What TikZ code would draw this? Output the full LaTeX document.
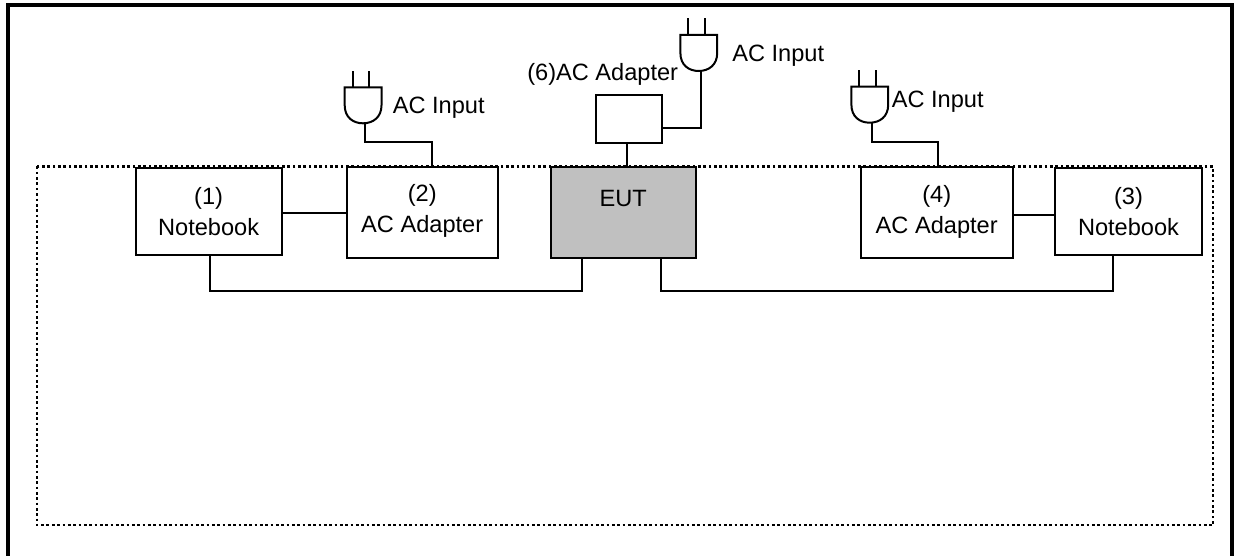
\documentclass[tikz,border=0pt]{standalone}
\usepackage{xcolor}
\usepackage{fontspec}
\setmainfont{Liberation Sans}
\usetikzlibrary{positioning,calc}
\definecolor{eutgray}{HTML}{C0C0C0}
\tikzset{
    box/.style={draw, line width=1.5pt, fill=white, align=center, inner sep=0pt, outer sep=0pt,
        font=\fontsize{17.7}{23.4}\selectfont},
    label/.style={inner sep=0pt, font=\fontsize{17.7}{21}\selectfont},
    wire/.style={line width=1.5pt, line join=miter},
    plug/.pic={
        \draw [wire, fill=white] (-20.3,-36) -- (16.5,-36) -- (16.5,-18)
            .. controls (16.5,-6) and (8,0) .. (-2,0)
            .. controls (-12,0) and (-20.3,-6) .. (-20.3,-18) -- cycle;
        \draw [wire] (-12.5,-36) -- (-12.5,-52.5);
        \draw [wire] (4,-36) -- (4,-52.5);
    }
}
\begin{document}
\begin{tikzpicture}[x=0.75pt, y=-0.75pt]
    \useasboundingbox (0,0) rectangle (1238,556);

    % Frame
    \draw [line width=3pt] (7.5,556) -- (7.5,5.5) -- (1232,5.5) -- (1232,556);

    % Table area
    \draw [line width=2.2pt, dash pattern=on 2pt off 2pt] (37,166.5) rectangle (1213,525);

    % Boxes
    \node [box, minimum width=109.5pt, minimum height=65.5pt] (notebookA) at (208.6,211.8) {(1)\\Notebook};
    \node [box, text depth=6pt, minimum width=113.3pt, minimum height=68pt] (adapterA) at (422.2,212.5) {(2)\\AC Adapter};
    \node [box, fill=eutgray, minimum width=108.5pt, minimum height=68pt, anchor=center] (eut) at (623.3,212.5) {};
    \node [label] (eutText) at (623.3,198) {EUT};
    \node [box, text depth=5pt, minimum width=114pt, minimum height=68pt] (adapterB) at (936.7,212.5) {(4)\\AC Adapter};
    \node [box, minimum width=109.8pt, minimum height=65.5pt] (notebookB) at (1128.5,211.5) {(3)\\Notebook};
    \node [box, minimum width=49.5pt, minimum height=36.2pt] (adapterC) at (628.7,119.2) {};

    % Plugs
    \coordinate (plugA) at (365,123.3);
    \coordinate (plugB) at (700.7,71);
    \coordinate (plugC) at (871.7,122.7);
    \pic at (plugA) {plug};
    \pic at (plugB) {plug};
    \pic at (plugC) {plug};

    % Labels
    \node [label, anchor=west] (inputA) at (392.5,108) {AC Input};
    \node [label, anchor=west] (inputB) at (732,56) {AC Input};
    \node [label, anchor=west] (inputC) at (891.5,102) {AC Input};
    \node [label, anchor=west] (adapterText) at (527,74) {(6)AC Adapter};

    % Mains wires
    \coordinate (bendA) at (432,142);
    \coordinate (bendC) at (938.3,141.7);
    \draw [wire] (plugA) |- (bendA) -- (bendA |- adapterA.north);
    \draw [wire] (plugB) |- (adapterC.east |- 0,128.3);
    \draw [wire] (plugC) |- (bendC) -- (bendC |- adapterB.north);
    \draw [wire] (adapterC.south -| 627,0) -- (eut.north -| 627,0);

    % Adapter to notebook
    \draw [wire] (notebookA.east |- 0,212.7) -- (adapterA.west |- 0,212.7);
    \draw [wire] (adapterB.east |- 0,215) -- (notebookB.west |- 0,215);

    % Notebook to EUT
    \coordinate (busA) at (210,290.7);
    \coordinate (busB) at (1113,291);
    \draw [wire] (notebookA.south -| busA) -- (busA) -| (eut.south -| 582,0);
    \draw [wire] (notebookB.south -| busB) -- (busB) -| (eut.south -| 661,0);
\end{tikzpicture}
\end{document}
